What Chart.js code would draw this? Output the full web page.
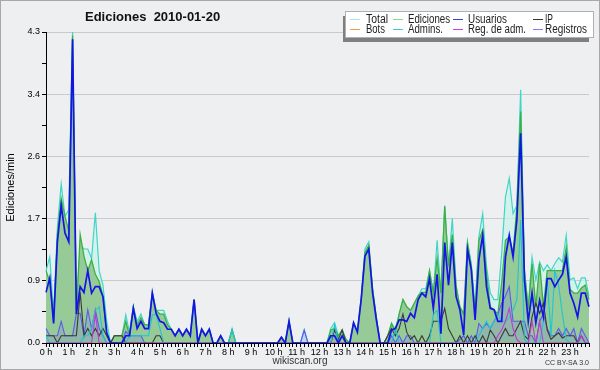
<!DOCTYPE html>
<html>
<head>
<meta charset="utf-8">
<script src="https://cdn.jsdelivr.net/npm/chart.js@4/dist/chart.umd.min.js"></script>
<style>
  html, body { margin: 0; padding: 0; background: #eeeff0; }
</style>
</head>
<body>
<canvas id="chart" width="600" height="370"></canvas>
<script>
// hour labels on the x axis (one bin = 10 minutes, 6 bins per hour)
const hourLabels = ["0 h","1 h","2 h","3 h","4 h","5 h","6 h","7 h","8 h","9 h","10 h","11 h",
  "12 h","13 h","14 h","15 h","16 h","17 h","18 h","19 h","20 h","21 h","22 h","23 h"];
const yTickLabels = ["0.0", "0.9", "1.7", "2.6", "3.4", "4.3"];
const yMax = 4.3;

// edits per minute, one row per hour
const total = [
  1.0, 1.19, 0.4, 1.6, 2.2, 1.75,
  1.84, 4.3, 0.5, 1.36, 1.3, 1.3,
  1.17, 1.8, 1.0, 0.8, 0.3, 0,
  0.1, 0.1, 0.1, 0.39, 0.15, 0.5,
  0.3, 0.4, 0.25, 0.25, 0.7, 0.45,
  0.45, 0.45, 0.3, 0.19, 0.1, 0.19,
  0.1, 0.19, 0.1, 0.6, 0, 0.19,
  0.1, 0.19, 0, 0, 0.1, 0,
  0, 0.2, 0, 0, 0, 0,
  0, 0, 0, 0, 0, 0,
  0, 0, 0.08, 0, 0.3, 0,
  0, 0, 0.18, 0, 0, 0,
  0, 0, 0, 0.2, 0.28, 0.1,
  0.18, 0.05, 0, 0.28, 0.15, 0.6,
  1.3, 1.4, 0.75, 0.35, 0, 0,
  0.1, 0.27, 0.2, 0.4, 0.6, 0.5,
  0.45, 0.55, 0.65, 0.75, 0.75, 1.0,
  0.69, 1.42, 0.69, 1.9, 1.06, 1.72,
  0.8, 0.5, 0.4, 1.4, 1.1, 0.5,
  1.47, 1.79, 1.07, 0.69, 0.6, 0.6,
  1.24, 2.02, 2.28, 1.79, 1.9, 3.5,
  1.0, 0.5, 1.19, 0.87, 1.12, 1.0,
  1.08, 1.0, 1.1, 1.18, 1.12, 1.49,
  0.87, 0.9, 0.75, 0.9, 0.9, 0.65
];
const ediciones = [
  1.0, 0.85, 0.3, 1.5, 2.0, 1.75,
  1.55, 4.25, 0.4, 1.5, 1.2, 1.0,
  1.15, 0.95, 0.85, 0.65, 0.1, 0,
  0.1, 0.1, 0.1, 0.3, 0.1, 0.5,
  0.25, 0.35, 0.25, 0.25, 0.69, 0.45,
  0.4, 0.4, 0.25, 0.19, 0.1, 0.19,
  0.1, 0.19, 0.1, 0.6, 0, 0.19,
  0.1, 0.19, 0, 0, 0.1, 0,
  0, 0.18, 0, 0, 0, 0,
  0, 0, 0, 0, 0, 0,
  0, 0, 0.08, 0, 0.3, 0,
  0, 0, 0, 0, 0, 0,
  0, 0, 0, 0.18, 0.2, 0.1,
  0.18, 0.05, 0, 0.28, 0.15, 0.6,
  1.25, 1.35, 0.75, 0.35, 0, 0,
  0.1, 0.27, 0.15, 0.4, 0.6, 0.5,
  0.45, 0.55, 0.65, 0.7, 0.7, 1.0,
  0.69, 1.17, 0.69, 1.89, 1.06, 1.5,
  0.78, 0.5, 0.4, 1.38, 1.06, 0.4,
  1.42, 1.56, 0.97, 0.5, 0.46, 0.4,
  0.83, 1.42, 1.47, 1.24, 1.88, 3.2,
  1.0, 0.46, 1.1, 0.5, 1.1, 0.5,
  1.0, 1.0, 1.0, 1.0, 1.0, 1.32,
  0.74, 0.69, 0.69, 0.76, 0.8, 0.6
];
const usuarios = [
  0.7, 0.9, 0.27, 1.4, 1.9, 1.52,
  1.4, 4.2, 0.4, 0.78, 0.7, 1.0,
  0.69, 0.78, 0.78, 0.64, 0.14, 0,
  0, 0, 0, 0.1, 0.1, 0.48,
  0.2, 0.3, 0.2, 0.2, 0.69, 0.41,
  0.3, 0.28, 0.19, 0.19, 0.1, 0.19,
  0.1, 0.19, 0.1, 0.6, 0, 0.19,
  0.1, 0.19, 0, 0, 0.1, 0,
  0, 0, 0, 0, 0, 0,
  0, 0, 0, 0, 0, 0,
  0, 0, 0.08, 0, 0.3, 0,
  0, 0, 0, 0, 0, 0,
  0, 0, 0, 0.1, 0.1, 0,
  0.1, 0, 0, 0.28, 0.15, 0.6,
  1.2, 1.3, 0.7, 0.32, 0, 0,
  0, 0.18, 0.2, 0.32, 0.32, 0.3,
  0.41, 0.35, 0.6, 0.69, 0.64, 0.89,
  0.48, 0.95, 0.13, 1.39, 0.8, 1.39,
  0.64, 0.46, 0.11, 1.29, 1.01, 0.32,
  1.15, 1.49, 0.78, 0.48, 0.46, 0.3,
  0.3, 1.19, 1.49, 1.19, 1.7, 2.9,
  0.87, 0.3, 0.69, 0.28, 0.59, 0.36,
  0.89, 0.89, 0.78, 0.87, 0.95, 1.19,
  0.69, 0.55, 0.36, 0.69, 0.69, 0.5
];
const ip = [
  0.1, 0.1, 0.1, 0, 0.1, 0.1,
  0.1, 0.1, 0.1, 0.7, 0.1, 0.2,
  0.1, 0.2, 0.1, 0.2, 0.1, 0,
  0.1, 0.1, 0.1, 0, 0, 0,
  0, 0, 0, 0, 0, 0.1,
  0.1, 0, 0, 0, 0, 0,
  0, 0, 0, 0, 0, 0,
  0, 0, 0, 0, 0, 0,
  0, 0, 0, 0, 0, 0,
  0, 0, 0, 0, 0, 0,
  0, 0, 0, 0, 0, 0,
  0, 0, 0, 0, 0, 0,
  0, 0, 0, 0, 0.18, 0.05,
  0.18, 0, 0, 0, 0, 0,
  0, 0, 0, 0, 0, 0,
  0.1, 0.2, 0.1, 0.2, 0.4, 0.15,
  0.05, 0.1, 0, 0.1, 0, 0.1,
  0.3, 0.3, 0.3, 0.48, 0.2, 0.1,
  0, 0.1, 0, 0.1, 0, 0.1,
  0, 0.1, 0, 0.18, 0.1, 0,
  0.1, 0.2, 0.1, 0.1, 0.2, 0.3,
  0.1, 0.05, 0.36, 0.55, 0.41, 0.55,
  0.18, 0.05, 0.1, 0.14, 0.07, 0.1,
  0.1, 0.1, 0, 0.1, 0, 0
];
const bots = new Array(144).fill(0);
const admins = [
  0.1, 0, 0, 0, 0, 0,
  0, 0, 0, 0, 0.1, 0.1,
  0.2, 0.45, 0.5, 0.1, 0, 0,
  0, 0, 0, 0, 0.1, 0.1,
  0.1, 0.1, 0.1, 0.1, 0.39, 0.39,
  0.2, 0, 0, 0, 0, 0,
  0, 0, 0, 0, 0, 0,
  0, 0, 0, 0, 0, 0,
  0, 0.18, 0, 0, 0, 0,
  0, 0, 0, 0, 0, 0,
  0, 0, 0, 0, 0, 0,
  0, 0, 0, 0, 0, 0,
  0, 0, 0, 0, 0.25, 0,
  0, 0, 0, 0, 0, 0,
  0, 0, 0, 0, 0, 0,
  0, 0, 0.2, 0, 0, 0,
  0, 0, 0, 0, 0, 0,
  0.4, 0.45, 0, 0, 0, 0,
  0, 0, 0, 0, 0, 0,
  0.1, 0.2, 0.3, 0.2, 0.3, 0.4,
  0.3, 0.3, 0.35, 0.45, 0.6, 1.7,
  0.05, 0, 0, 0, 0, 0.3,
  0.9, 0.1, 1.0, 0.8, 0.4, 0.05,
  0, 0, 0, 0, 0, 0
];
const regAdm = [
  0, 0, 0, 0, 0, 0,
  0, 0, 0, 0, 0, 0,
  0, 0.4, 0, 0, 0, 0,
  0, 0, 0, 0, 0, 0,
  0, 0, 0, 0, 0, 0,
  0, 0, 0, 0, 0, 0,
  0, 0, 0, 0, 0, 0,
  0, 0, 0, 0, 0, 0,
  0, 0, 0, 0, 0, 0,
  0, 0, 0, 0, 0, 0,
  0, 0, 0, 0, 0, 0,
  0, 0, 0, 0, 0, 0,
  0, 0, 0, 0, 0, 0,
  0, 0, 0, 0, 0, 0,
  0, 0, 0, 0, 0, 0,
  0, 0, 0, 0, 0, 0,
  0, 0, 0, 0, 0, 0,
  0, 0, 0, 0, 0, 0,
  0, 0, 0, 0, 0, 0,
  0, 0, 0, 0, 0, 0.1,
  0.18, 0.3, 0.48, 0.2, 0.05, 0,
  0, 0, 0.3, 0, 0.3, 0,
  0, 0, 0, 0, 0, 0,
  0, 0, 0, 0.1, 0, 0
];
const registros = [
  0.2, 0.1, 0.1, 0.1, 0.3, 0.1,
  0.1, 0.1, 0.41, 0.41, 0.1, 0.46,
  0.2, 0.46, 0.2, 0.1, 0, 0,
  0, 0, 0, 0.16, 0.1, 0.1,
  0.1, 0.1, 0, 0, 0, 0,
  0, 0, 0, 0, 0, 0,
  0, 0, 0, 0, 0, 0,
  0, 0, 0, 0, 0, 0,
  0, 0, 0, 0, 0, 0,
  0, 0, 0, 0, 0, 0,
  0, 0, 0, 0, 0, 0,
  0, 0, 0.18, 0, 0, 0,
  0, 0, 0, 0.1, 0.1, 0,
  0, 0, 0, 0, 0, 0,
  0, 0, 0, 0, 0, 0,
  0, 0.1, 0, 0.1, 0, 0.1,
  0.1, 0, 0, 0, 0, 0,
  0, 0, 0, 0, 0, 0,
  0, 0.05, 0.1, 0, 0.1, 0,
  0.27, 0.2, 0.27, 0.2, 0.3, 0.4,
  0.55, 0.65, 0.78, 0.3, 0.3, 0.3,
  0.3, 0.1, 0.1, 0, 0.3, 0.4,
  0.2, 0.1, 0.1, 0.2, 0.1, 0.2,
  0.1, 0.2, 0, 0.2, 0.1, 0
];

// one label per 10-minute bin, hour text only on the first bin of each hour
const binLabels = hourLabels.flatMap(h => [h, "", "", "", "", ""]);

// legend entries, with the width each text takes in the box
const legendItems = [
  { text: "Total", color: "#a6e6de", w: 22 },
  { text: "Ediciones", color: "#8fd48f", w: 42 },
  { text: "Usuarios", color: "#4040e0", w: 39 },
  { text: "IP", color: "#333333", w: 8 },
  { text: "Bots", color: "#f0a040", w: 19 },
  { text: "Admins.", color: "#40c8dc", w: 35 },
  { text: "Reg. de adm.", color: "#d040e0", w: 58 },
  { text: "Registros", color: "#8080f0", w: 42 }
];

const FONT = "'Liberation Sans', 'DejaVu Sans', sans-serif";

// background, title, legend box and footer
const decor = {
  id: "decor",
  beforeDraw(chart) {
    const c = chart.ctx;
    c.save();
    c.fillStyle = "#eeeff0";
    c.fillRect(0, 0, chart.width, chart.height);
    c.strokeStyle = "#a8a8a8";
    c.lineWidth = 1;
    c.strokeRect(0.5, 0.5, chart.width - 1, chart.height - 1);
    c.restore();
  },
  afterDraw(chart) {
    const c = chart.ctx;
    c.save();
    c.fillStyle = "#111";
    c.font = "bold 13px " + FONT;
    c.textBaseline = "alphabetic";
    c.fillText("Ediciones  2010-01-20", 85, 21, 138);

    // legend
    c.fillStyle = "#7f7f7f";
    c.fillRect(343, 16, 246, 26);
    c.fillStyle = "#ffffff";
    c.fillRect(345.5, 11.5, 248, 26);
    c.strokeStyle = "#b0b0b0";
    c.strokeRect(345.5, 11.5, 248, 26);
    const cols = [[350, 366], [393, 408], [453, 468], [533, 545]];
    c.font = "12px " + FONT;
    legendItems.forEach((it, i) => {
      const col = cols[i % 4];
      const row = Math.floor(i / 4);
      const ly = 19.5 + row * 10;
      c.strokeStyle = it.color;
      c.lineWidth = 1;
      c.beginPath();
      c.moveTo(col[0], ly);
      c.lineTo(col[0] + 10, ly);
      c.stroke();
      c.fillStyle = "#222";
      c.fillText(it.text, col[1], ly + 3.5, it.w);
    });

    // footer
    c.fillStyle = "#333";
    c.font = "10px " + FONT;
    c.textAlign = "center";
    c.fillText("wikiscan.org", 300, 364);
    c.font = "7px " + FONT;
    c.textAlign = "right";
    c.fillText("CC BY-SA 3.0", 589, 365);
    c.restore();
  }
};

function line(label, data, color, width, order, fill, bg) {
  return {
    label, data, order,
    borderColor: color,
    borderWidth: width,
    backgroundColor: bg || color,
    fill: fill ? "origin" : false,
    pointRadius: 0,
    tension: 0
  };
}

new Chart(document.getElementById("chart"), {
  type: "line",
  data: {
    labels: binLabels,
    datasets: [
      line("Usuarios", usuarios, "#1414e6", 1.7, 0),
      line("Reg. de adm.", regAdm, "#c23ad6", 1.1, 1),
      line("Admins.", admins, "#20c4d6", 1.1, 2),
      line("IP", ip, "#3a3a3a", 1.1, 3),
      line("Registros", registros, "#5a5af0", 1.1, 4, true, "rgba(120,120,240,0.22)"),
      line("Bots", bots, "#f0a040", 1, 5),
      line("Ediciones", ediciones, "#3cb043", 1.3, 6, true, "#96ca96"),
      line("Total", total, "#3fd6c8", 1.2, 7, true, "rgba(200,244,232,0.7)")
    ]
  },
  options: {
    responsive: false,
    animation: false,
    events: [],
    layout: { padding: { top: 32, right: 11, left: 0, bottom: 0 } },
    plugins: { legend: { display: false }, title: { display: false }, tooltip: { enabled: false } },
    scales: {
      x: {
        type: "category",
        offset: false,
        afterFit(s) { s.height = 27; },
        grid: { drawOnChartArea: false, drawTicks: true, tickLength: 4, tickColor: "#000", offset: false },
        border: { color: "#000", width: 1 },
        ticks: {
          autoSkip: false, maxRotation: 0, minRotation: 0, padding: 0,
          color: "#000", font: { size: 9, family: FONT },
          callback: (v, i) => binLabels[i]
        }
      },
      y: {
        min: 0,
        max: yMax,
        afterFit(s) { s.width = 46; },
        afterBuildTicks(s) {
          s.ticks = [];
          for (let k = 0; k <= 10; k++) s.ticks.push({ value: yMax * k / 10 });
        },
        grid: {
          color: ctx => (ctx.index % 2 === 0 && ctx.index > 0) ? "#cacaca" : "rgba(0,0,0,0)",
          tickColor: "#000",
          tickLength: 4
        },
        border: { color: "#000", width: 1 },
        ticks: {
          color: "#000", padding: 2, font: { size: 9, family: FONT },
          callback: (v, i) => i % 2 === 0 ? yTickLabels[i / 2] : ""
        },
        title: {
          display: true, text: "Ediciones/min", color: "#000",
          font: { size: 11, family: FONT }, padding: { top: 4, bottom: 0 }
        }
      }
    }
  },
  plugins: [decor]
});
</script>
</body>
</html>
